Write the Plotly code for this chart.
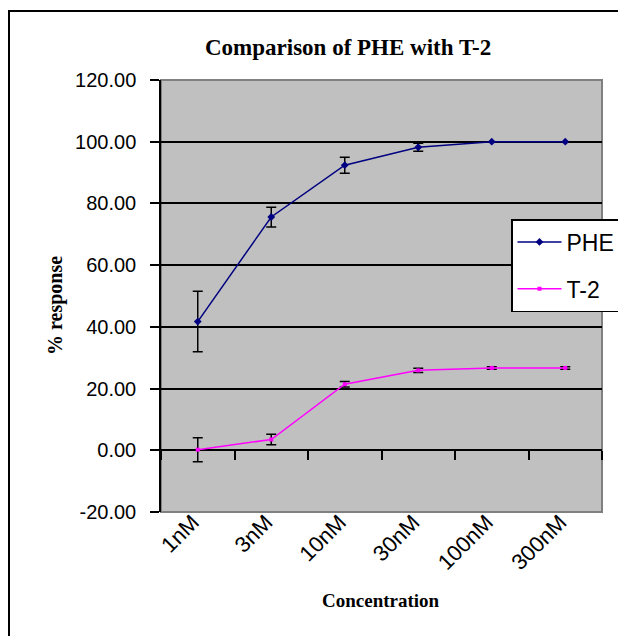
import plotly.graph_objects as go

categories = ["1nM", "3nM", "10nM", "30nM", "100nM", "300nM"]
phe_values = [41.7, 75.6, 92.4, 98.2, 100.0, 100.0]
phe_errors = [9.8, 3.2, 2.6, 1.3, 0.0, 0.0]
t2_values = [0.2, 3.5, 21.4, 25.9, 26.7, 26.7]
t2_errors = [3.9, 1.7, 0.9, 0.7, 0.4, 0.4]
y_ticks = [-20, 0, 20, 40, 60, 80, 100, 120]
y_labels = ["%.2f" % v for v in y_ticks]
y_min, y_max = -20, 120

# page offset (browser body margin)
OFF = 8
W, H = 618, 628
# plot area in page pixels: x 161..602, y 80..512
L, T = 161 - OFF, 80 - OFF
R = W - (602 - OFF)
B = H - (512 - OFF)
pw, ph = W - L - R, H - T - B

def px_x(p):
    return (p - OFF - L) / pw

def px_y(p):
    return (H - B - (p - OFF)) / ph

fig = go.Figure()
fig.add_trace(go.Scatter(
    x=categories, y=phe_values, name="PHE", mode="lines+markers",
    line=dict(color="#000080", width=1.5),
    marker=dict(symbol="diamond", size=6, color="#000080"),
    error_y=dict(type="data", array=phe_errors, color="black", thickness=1.5, width=5),
    legendgroup="a",
))
fig.add_trace(go.Scatter(
    x=categories, y=t2_values, name="T-2", mode="lines+markers",
    line=dict(color="#FF00FF", width=1.5),
    marker=dict(symbol="square", size=4, color="#FF00FF"),
    error_y=dict(type="data", array=t2_errors, color="black", thickness=1.5, width=5),
    legendgroup="b",
))
# invisible helper trace to carry the category ticks of the axis crossing at y=0
fig.add_trace(go.Scatter(
    x=categories, y=phe_values, xaxis="x2", mode="markers",
    marker=dict(opacity=0), showlegend=False, hoverinfo="skip",
))

zero_pos = (0 - y_min) / (y_max - y_min)

fig.update_layout(
    width=W, height=H,
    margin=dict(l=L, r=R, t=T, b=B, autoexpand=False),
    paper_bgcolor="white",
    plot_bgcolor="#C0C0C0",
    font=dict(family="Liberation Sans, Arial", color="black"),
    showlegend=True,
    legend=dict(
        x=px_x(511), y=px_y(219), xanchor="left", yanchor="top",
        bgcolor="white", bordercolor="black", borderwidth=1.5,
        font=dict(size=23, family="Liberation Sans, Arial"),
        tracegroupgap=14, itemwidth=44,
        entrywidth=78, entrywidthmode="pixels",
    ),
    xaxis=dict(
        type="category", categoryorder="array", categoryarray=categories,
        range=[-0.5, 5.5], showgrid=False, showline=False, zeroline=False,
        ticks="", tickangle=-45, tickfont=dict(size=22), ticklabelstandoff=-8,
        ticklabelshift=-5, automargin=False,
    ),
    xaxis2=dict(
        type="category", categoryorder="array", categoryarray=categories,
        overlaying="x", anchor="free", position=zero_pos, side="bottom",
        range=[-0.5, 5.5], showgrid=False, showline=False, zeroline=False,
        showticklabels=False, ticks="outside", ticklen=9, tickwidth=1.5,
        tickcolor="black", tickson="boundaries",
    ),
    yaxis=dict(
        range=[y_min, y_max], tickvals=y_ticks, ticktext=y_labels,
        showgrid=True, gridcolor="black", gridwidth=1.5, zeroline=False,
        showline=True, linecolor="black", linewidth=1.5,
        ticks="outside", ticklen=9, tickwidth=1.5, tickcolor="black",
        tickfont=dict(size=20), ticklabelstandoff=10, automargin=False,
    ),
    shapes=[
        dict(type="rect", xref="x domain", yref="y domain", x0=0, x1=1, y0=0, y1=1,
             line=dict(color="#808080", width=2), layer="below"),
        dict(type="rect", xref="paper", yref="paper",
             x0=px_x(9), x1=px_x(680), y0=px_y(11), y1=px_y(700),
             line=dict(color="black", width=2), layer="below"),
    ],
    annotations=[
        dict(text="<b>Comparison of PHE with T-2</b>", xref="paper", yref="paper",
             x=px_x(348), y=px_y(47), showarrow=False, xanchor="center", yanchor="middle",
             font=dict(family="Liberation Serif, Times New Roman", size=23)),
        dict(text="<b>Concentration</b>", xref="paper", yref="paper",
             x=px_x(381), y=px_y(600), showarrow=False, xanchor="center", yanchor="middle",
             font=dict(family="Liberation Serif, Times New Roman", size=19)),
        dict(text="<b>% response</b>", xref="paper", yref="paper",
             x=px_x(55), y=px_y(306), showarrow=False, xanchor="center", yanchor="middle",
             textangle=-90,
             font=dict(family="Liberation Serif, Times New Roman", size=20)),
    ],
)

fig.write_html("out.html")
